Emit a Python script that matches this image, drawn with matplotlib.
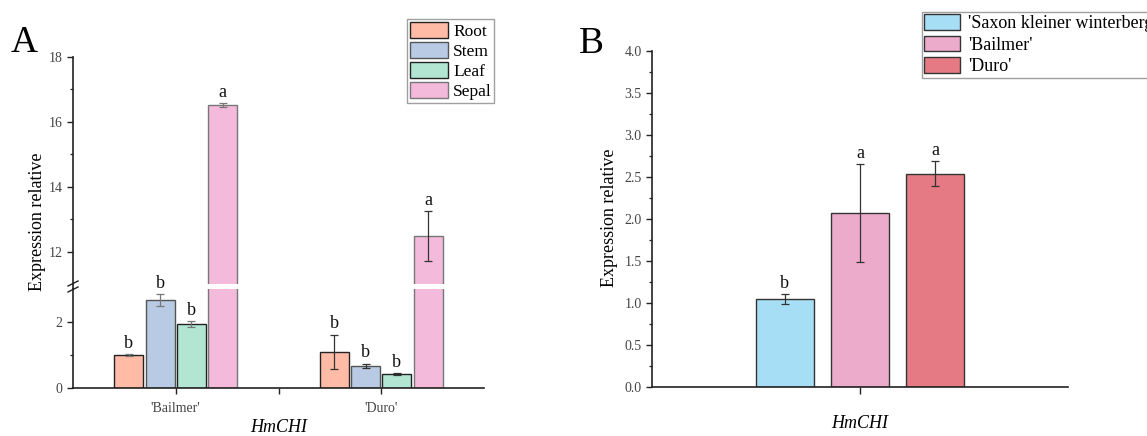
import matplotlib
matplotlib.use("Agg")
import matplotlib.pyplot as plt
from matplotlib.patches import Patch
from matplotlib.lines import Line2D
import numpy as np

plt.rcParams['font.family'] = ['Liberation Serif', 'DejaVu Serif']

# ---- Panel A data: expression by tissue in two cultivars ----
cultivars_a = ["'Bailmer'", "'Duro'"]
tissues = ["Root", "Stem", "Leaf", "Sepal"]
tissue_colors = ["#FFBBA6", "#B9CBE4", "#B2E6D3", "#F4BADC"]
tissue_edges = ["#222222", "#555555", "#222222", "#777777"]
means_a = {
    "Root":  [1.00, 1.10],
    "Stem":  [2.66, 0.68],
    "Leaf":  [1.94, 0.42],
    "Sepal": [16.52, 12.48],
}
errs_a = {
    "Root":  [0.02, 0.52],
    "Stem":  [0.18, 0.06],
    "Leaf":  [0.08, 0.02],
    "Sepal": [0.06, 0.78],
}
letters_a = {
    "Root":  ["b", "b"],
    "Stem":  ["b", "b"],
    "Leaf":  ["b", "b"],
    "Sepal": ["a", "a"],
}

# ---- Panel B data: sepal expression across cultivars ----
cultivars_b = ["'Saxon kleiner winterberg'", "'Bailmer'", "'Duro'"]
colors_b = ["#A6DFF5", "#EDABCB", "#E57A84"]
means_b = [1.05, 2.07, 2.54]
errs_b = [0.06, 0.58, 0.15]
letters_b = ["b", "a", "a"]

W, H = 1147, 436
fig = plt.figure(figsize=(W / 100, H / 100), dpi=100)

def fx(px):
    return px / W

def fy(py):
    return 1 - py / H

tick_color = "#444444"
spine_color = "#222222"

# ---------------- Panel A (broken y axis) ----------------
left_a, right_a = 73, 484
ax_bot = fig.add_axes([fx(left_a), fy(388), fx(right_a - left_a), (388 - 289) / H])
ax_top = fig.add_axes([fx(left_a), fy(284), fx(right_a - left_a), (284 - 57) / H])
ax_top.patch.set_visible(False)

bar_w = 0.142
step = 0.152
x = np.arange(len(cultivars_a))
for ax in (ax_bot, ax_top):
    for i, t in enumerate(tissues):
        pos = x + (i - 1.5) * step
        ax.bar(pos, means_a[t], width=bar_w, color=tissue_colors[i],
               edgecolor=tissue_edges[i], linewidth=1.0, zorder=2)
        ecol = ["#777777", "#333333"]
        for j in range(len(x)):
            ax.errorbar(pos[j], means_a[t][j], yerr=errs_a[t][j], fmt="none",
                        ecolor=ecol[j], elinewidth=0.9, capsize=3, capthick=0.9,
                        zorder=3)
    ax.set_xlim(-0.5, 1.5)
    for s in ("right", "top"):
        ax.spines[s].set_visible(False)
    for s in ("left", "bottom"):
        ax.spines[s].set_color(spine_color)
        ax.spines[s].set_linewidth(1.2)
    ax.tick_params(axis="y", which="major", direction="out", length=4, width=1.0,
                   labelsize=10, colors=spine_color, labelcolor=tick_color)
    ax.tick_params(axis="y", which="minor", direction="out", length=2.5,
                   width=0.9, colors=spine_color)

ax_bot.set_ylim(0, 3.0)
ax_bot.set_yticks([0, 2])
ax_bot.set_yticks([1], minor=True)
ax_top.set_ylim(11, 18)
ax_top.set_yticks([12, 14, 16, 18])
ax_top.set_yticks([13, 15, 17], minor=True)

ax_top.spines["bottom"].set_visible(False)
ax_top.tick_params(axis="x", bottom=False, labelbottom=False)

ax_bot.set_xticks(x)
ax_bot.set_xticklabels(cultivars_a)
ax_bot.set_xticks([0.5], minor=True)
ax_bot.tick_params(axis="x", which="both", direction="out", length=4, width=1.0,
                   labelsize=10, colors=spine_color, labelcolor=tick_color, pad=6)

# significance letters
for i, t in enumerate(tissues):
    pos = x + (i - 1.5) * step
    for j in range(len(x)):
        top = means_a[t][j] + errs_a[t][j]
        ax = ax_top if means_a[t][j] > 3 else ax_bot
        ax.annotate(letters_a[t][j], (pos[j], top), xytext=(0, 1.5),
                    textcoords="offset points", ha="center", va="bottom",
                    fontsize=13, color="#111111", annotation_clip=False,
                    zorder=5)

# continuous spine through the gap plus break marks
fig.add_artist(Line2D([fx(left_a), fx(left_a)], [fy(289), fy(284)],
                      color=spine_color, lw=1.2))
for yb in (283.5, 289.5):
    fig.add_artist(Line2D([fx(left_a - 5), fx(left_a + 5)], [fy(yb + 2.5), fy(yb - 2.5)],
                          color=spine_color, lw=1.0))

fig.text(fx(37), fy(222), "Expression relative", rotation=90, ha="center",
         va="center", fontsize=13)
fig.text(fx(279), fy(427), "HmCHI", style="italic", ha="center", va="center",
         fontsize=13)
fig.text(fx(11), fy(43), "A", ha="left", va="center", fontsize=27)

handles_a = [Patch(facecolor=c, edgecolor=e, linewidth=1.0)
             for c, e in zip(tissue_colors, tissue_edges)]
leg_a = fig.legend(handles_a, tissues, loc="upper left",
                   bbox_to_anchor=(fx(407), fy(19)), fontsize=12.5,
                   frameon=True, fancybox=False, edgecolor="#888888",
                   handlelength=2.2, handleheight=1.05, labelspacing=0.13,
                   handletextpad=0.3, borderpad=0.15, borderaxespad=0)
leg_a.get_frame().set_linewidth(1.0)

# ---------------- Panel B ----------------
left_b, right_b = 652, 1068
axb = fig.add_axes([fx(left_b), fy(387), fx(right_b - left_b), (387 - 51) / H])
xb = np.array([-1, 0, 1])
axb.bar(xb, means_b, width=0.77, color=colors_b, edgecolor="#333333",
        linewidth=1.0, zorder=2)
axb.errorbar(xb, means_b, yerr=errs_b, fmt="none", ecolor="#333333",
             elinewidth=0.9, capsize=3, capthick=0.9, zorder=3)
for xi, m, e, l in zip(xb, means_b, errs_b, letters_b):
    axb.annotate(l, (xi, m + e), xytext=(0, 1.5), textcoords="offset points",
                 ha="center", va="bottom", fontsize=13, color="#111111")
axb.set_xlim(-2.77, 2.77)
axb.set_ylim(0, 4.0)
axb.set_yticks(np.arange(0, 4.01, 0.5))
axb.set_yticks(np.arange(0.25, 4.0, 0.5), minor=True)
axb.set_yticklabels([f"{v:.1f}" for v in np.arange(0, 4.01, 0.5)])
axb.set_xticks([0])
axb.set_xticklabels([""])
for s in ("right", "top"):
    axb.spines[s].set_visible(False)
for s in ("left", "bottom"):
    axb.spines[s].set_color(spine_color)
    axb.spines[s].set_linewidth(1.2)
axb.tick_params(axis="y", which="major", direction="out", length=4, width=1.0,
                labelsize=10, colors=spine_color, labelcolor=tick_color)
axb.tick_params(axis="y", which="minor", direction="out", length=2.5, width=0.9,
                colors=spine_color)
axb.tick_params(axis="x", direction="out", length=5, width=1.0,
                colors=spine_color)

fig.text(fx(610), fy(218), "Expression relative", rotation=90, ha="center",
         va="center", fontsize=13)
fig.text(fx(860), fy(423), "HmCHI", style="italic", ha="center", va="center",
         fontsize=13)
fig.text(fx(579), fy(44), "B", ha="left", va="center", fontsize=27)

handles_b = [Patch(facecolor=c, edgecolor="#333333", linewidth=1.0) for c in colors_b]
leg_b = fig.legend(handles_b, cultivars_b, loc="upper left",
                   bbox_to_anchor=(fx(922), fy(12)), fontsize=13,
                   frameon=True, fancybox=False, edgecolor="#888888",
                   handlelength=2.0, handleheight=0.95, labelspacing=0.2,
                   handletextpad=0.45, borderpad=0.12, borderaxespad=0)
leg_b.get_frame().set_linewidth(1.0)

fig.savefig("out.png", dpi=100)
